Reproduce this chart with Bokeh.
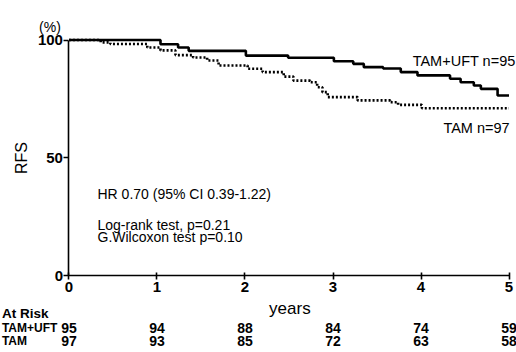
from bokeh.plotting import figure
from bokeh.models import Range1d, Label, FixedTicker, LinearAxis
from bokeh.embed import file_html
from bokeh.resources import INLINE
import math

# Kaplan-Meier step data (years, RFS %)
uft_t = [0, 1.04, 1.24, 1.36, 2.01, 2.49, 3.01, 3.23, 3.35, 3.57, 3.77, 3.96, 4.33, 4.45, 4.60, 4.68, 4.87, 5.0]
uft_s = [100, 98.2, 96.8, 95.4, 93.4, 92.5, 91.0, 89.9, 88.5, 87.9, 86.4, 85.0, 83.6, 82.1, 80.7, 79.3, 76.5, 76.5]

tam_t = [0, 0.36, 0.47, 0.89, 1.04, 1.21, 1.41, 1.57, 1.70, 2.03, 2.20, 2.44, 2.55, 2.74, 2.82, 2.88, 2.94, 3.28, 3.65, 3.74, 4.01, 5.0]
tam_s = [100, 99.0, 98.3, 96.8, 95.6, 93.6, 92.6, 91.3, 89.2, 87.8, 86.4, 84.5, 82.8, 82.1, 80.0, 77.9, 75.8, 74.4, 73.6, 72.5, 71.1, 71.1]

x_ticks = [0, 1, 2, 3, 4, 5]
y_ticks = [0, 50, 100]

risk_years = [0, 1, 2, 3, 4, 5]
risk_uft = [95, 94, 88, 84, 74, 59]
risk_tam = [97, 93, 85, 72, 63, 58]

group_labels = ["TAM+UFT n=95", "TAM n=97"]
annot_lines = ["HR 0.70 (95% CI 0.39-1.22)", "Log-rank test, p=0.21", "G.Wilcoxon test p=0.10"]

FONT = "Liberation Sans"

W, H = 516, 352
p = figure(width=W, height=H, x_range=Range1d(-0.778, 5.085), y_range=Range1d(-32.42, 116.74),
           output_backend="svg", toolbar_location=None,
           x_axis_location=None, y_axis_location=None,
           min_border=0, min_border_left=0, min_border_right=0, min_border_top=0, min_border_bottom=0)
p.grid.visible = False
p.outline_line_color = None
p.background_fill_color = "white"
p.border_fill_color = "white"

xax = LinearAxis(fixed_location=0, bounds=(0, 5), ticker=FixedTicker(ticks=x_ticks))
yax = LinearAxis(fixed_location=0, bounds=(0, 100), ticker=FixedTicker(ticks=y_ticks))
for ax in (xax, yax):
    ax.axis_line_color = "black"
    ax.axis_line_width = 1.6
    ax.major_tick_line_color = "black"
    ax.major_tick_line_width = 1.6
    ax.minor_tick_line_color = None
    ax.major_label_text_font = FONT
    ax.major_label_text_font_size = "15px"
    ax.major_label_text_font_style = "bold"
    ax.major_label_text_color = "black"
xax.major_tick_in = 3
xax.major_tick_out = 4
xax.major_label_standoff = 2
yax.major_tick_in = 0
yax.major_tick_out = 5
yax.major_label_standoff = 1
p.add_layout(xax, "below")
p.add_layout(yax, "left")

p.step(uft_t, uft_s, mode="after", line_color="black", line_width=2.6)
p.step(tam_t, tam_s, mode="after", line_color="black", line_width=2.6, line_dash="2 2")

DY = 1.8  # baseline correction

def lab(x, y, text, size, align="left", style="normal", angle=0, baseline="alphabetic", dy=DY):
    p.add_layout(Label(x=x, y=y + dy, text=text, text_font=FONT, text_font_size=size,
                       text_align=align, text_baseline=baseline, text_font_style=style,
                       angle=angle, text_color="black"))

# group labels
lab(5.074, 89.4, group_labels[0], "14.5px", align="right")
lab(5.007, 61.0, group_labels[1], "14.5px", align="right")

# statistics
lab(0.324, 33.1, annot_lines[0], "14px")
lab(0.324, 19.9, annot_lines[1], "14px")
lab(0.324, 14.8, annot_lines[2], "14px")

# axis titles
lab(-0.216, 104.9, "(%)", "14px", align="center", dy=0.6)
lab(-0.54, 50, "RFS", "16px", align="center", angle=math.pi / 2, baseline="middle", dy=0)
lab(2.51, -15.7, "years", "17px", align="center")

# at risk table
lab(-0.762, -17.8, "At Risk", "13.5px", style="bold")
lab(-0.762, -23.7, "TAM+UFT", "12px", style="bold")
lab(-0.762, -29.2, "TAM", "12px", style="bold")
for yr, a, b in zip(risk_years, risk_uft, risk_tam):
    lab(yr, -23.7, str(a), "14px", align="center", style="bold")
    lab(yr, -29.2, str(b), "14px", align="center", style="bold")

open("out.html", "w").write(file_html(p, INLINE))
